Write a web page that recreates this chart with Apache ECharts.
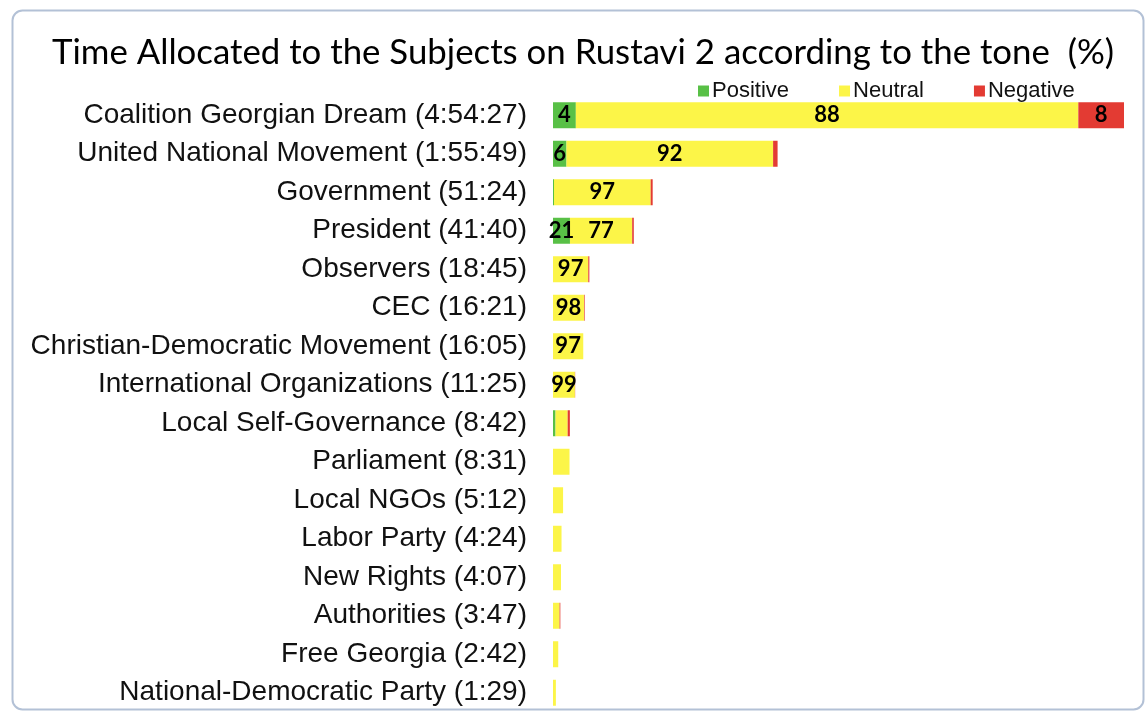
<!DOCTYPE html>
<html>
<head>
<meta charset="utf-8">
<script src="https://cdn.jsdelivr.net/npm/echarts@6/dist/echarts.min.js"></script>
<style>
html,body{margin:0;padding:0;background:#fff;}
#c{width:1145px;height:712px;}
</style>
</head>
<body>
<div id="c"></div>
<script>
// ---- data ----
var subjects = ['Coalition Georgian Dream','United National Movement','Government','President','Observers','CEC','Christian-Democratic Movement','International Organizations','Local Self-Governance','Parliament','Local NGOs','Labor Party','New Rights','Authorities','Free Georgia','National-Democratic Party'];
var durations = ['4:54:27','1:55:49','51:24','41:40','18:45','16:21','16:05','11:25','8:42','8:31','5:12','4:24','4:07','3:47','2:42','1:29'];
var positivePct = [4,6,1,21,0,0,0,0,15,0,0,0,0,0,0,0];
var neutralPct  = [88,92,97,77,97,98,97,99,72,100,100,100,100,90,100,100];
var negativePct = [8,2,2,2,3,2,0,1,13,0,0,0,0,10,0,0];
var seriesNames = ['Positive','Neutral','Negative'];
var title = 'Time Allocated to the Subjects on Rustavi 2 according to the tone  (%)';

// ---- build ----
function toSec(s){var p=s.split(':').map(Number);var t=0;p.forEach(function(v){t=t*60+v;});return t;}
var secs = durations.map(toSec);
var cats = subjects.map(function(n,i){return n+' ('+durations[i]+')';});
function build(pcts){
  return pcts.map(function(p,i){return {value: secs[i]*p/100, pct:p, total: secs[i]};});
}
var colors = ['#58c046','#fcf548','#e33b33'];
var pctSets = [positivePct, neutralPct, negativePct];

var series = seriesNames.map(function(name,k){
  return {
    name:name, type:'bar', stack:'t', barWidth:26,
    itemStyle:{color:colors[k]},
    data: build(pctSets[k]),
    label:{
      show:true, position:'inside', color:'#000', fontWeight:'bold',
      fontFamily:'Lato', fontSize:22,
      formatter:function(p){
        var d=p.data;
        return (d.value>=400 && d.total>=600) ? String(d.pct) : '';
      }
    }
  };
});

var chart = echarts.init(document.getElementById('c'));
chart.setOption({
  backgroundColor:'#fff',
  animation:false,
  graphic:[{
    type:'rect', left:10, top:8,
    shape:{width:1131, height:699, r:10},
    style:{fill:'none', stroke:'#b3c1d6', lineWidth:2}, z:-1
  }],
  title:{
    text:title, left:47, top:30,
    textStyle:{fontFamily:'Lato', fontWeight:'normal', fontSize:34.8, color:'#000'}
  },
  legend:{
    data:seriesNames, left:698, top:80, padding:0, icon:'rect',
    itemWidth:11, itemHeight:11, itemGap:50,
    textStyle:{fontFamily:'Liberation Sans', fontSize:22, color:'#111', padding:[0,0,0,-2]}
  },
  grid:{left:553, right:21, top:96, bottom:0, containLabel:false},
  xAxis:{type:'value', min:0, max:function(v){return v.max;}, show:false},
  yAxis:{
    type:'category', data:cats, inverse:true,
    axisLine:{show:false}, axisTick:{show:false},
    axisLabel:{fontFamily:'Liberation Sans', fontSize:28, color:'#111', margin:26, interval:0, showMinLabel:true, showMaxLabel:true}
  },
  series:series
});
</script>
</body>
</html>
